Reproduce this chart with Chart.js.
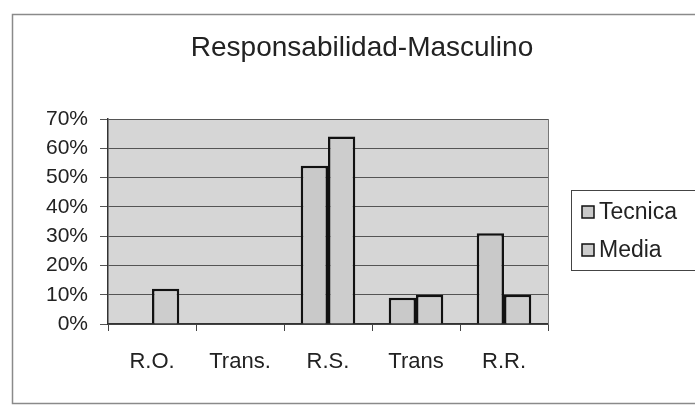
<!DOCTYPE html>
<html>
<head>
<meta charset="utf-8">
<script src="https://cdn.jsdelivr.net/npm/chart.js@4.4.0/dist/chart.umd.min.js"></script>
<style>
  html, body { margin: 0; padding: 0; background: #ffffff; }
  #wrap { width: 695px; height: 410px; position: relative; }
</style>
</head>
<body>
<div id="wrap"><canvas id="c" width="695" height="410"></canvas></div>
<script>
const chartTitle = "Responsabilidad-Masculino";
const categories = ["R.O.", "Trans.", "R.S.", "Trans", "R.R."];
const tecnica = [0, 0, 54, 9, 31];
const media = [12, 0, 64, 10, 10];
const seriesNames = ["Tecnica", "Media"];
const yTicks = [0, 10, 20, 30, 40, 50, 60, 70];

const FONT = "'Liberation Sans', Arial, sans-serif";

const decor = {
  id: 'decor',
  beforeDraw(chart) {
    const ctx = chart.ctx;
    const a = chart.chartArea;
    ctx.save();
    ctx.strokeStyle = '#8a8a8a';
    ctx.lineWidth = 1.5;
    ctx.strokeRect(12.5, 14.5, 700, 389);
    ctx.fillStyle = '#d6d6d6';
    ctx.fillRect(a.left, a.top, a.right - a.left, a.bottom - a.top);
    ctx.restore();
  },
  afterDraw(chart) {
    const ctx = chart.ctx;
    const a = chart.chartArea;
    ctx.save();
    ctx.strokeStyle = '#777';
    ctx.lineWidth = 1;
    ctx.beginPath();
    ctx.moveTo(a.right + 0.5, a.top);
    ctx.lineTo(a.right + 0.5, a.bottom);
    ctx.stroke();
    ctx.fillStyle = '#222';
    ctx.font = '28px ' + FONT;
    ctx.textAlign = 'center';
    ctx.textBaseline = 'middle';
    ctx.fillText(chartTitle, 362, 48);
    ctx.strokeStyle = '#444';
    ctx.lineWidth = 1;
    ctx.strokeRect(571.5, 190.5, 140, 80);
    const ys = [212, 250];
    ctx.font = '23px ' + FONT;
    ctx.textAlign = 'left';
    chart.data.datasets.forEach((d, i) => {
      ctx.fillStyle = d.backgroundColor;
      ctx.fillRect(582, ys[i] - 6, 12, 12);
      ctx.strokeStyle = '#111';
      ctx.lineWidth = 1.5;
      ctx.strokeRect(582, ys[i] - 6, 12, 12);
      ctx.fillStyle = '#222';
      ctx.fillText(d.label, 599, ys[i] + 1);
    });
    ctx.restore();
  }
};

new Chart(document.getElementById('c'), {
  type: 'bar',
  data: {
    labels: categories,
    datasets: [
      { label: seriesNames[0], data: tecnica, backgroundColor: '#c9c9c9', borderColor: '#111', borderWidth: 2.5,
        categoryPercentage: 0.62, barPercentage: 1.0 },
      { label: seriesNames[1], data: media, backgroundColor: '#cdcdcd', borderColor: '#111', borderWidth: 2.5,
        categoryPercentage: 0.62, barPercentage: 1.0 }
    ]
  },
  options: {
    responsive: false,
    animation: false,
    layout: { padding: { left: 0, right: 147, top: 119, bottom: 0 } },
    plugins: { legend: { display: false }, title: { display: false }, tooltip: { enabled: false } },
    scales: {
      x: {
        grid: { display: true, drawOnChartArea: false, drawTicks: true, tickLength: 7, offset: true, color: '#444' },
        border: { display: true, color: '#333', width: 1.5 },
        ticks: { color: '#222', font: { family: FONT, size: 22 }, padding: 18, maxRotation: 0 },
        afterFit(s) { s.height = 86; }
      },
      y: {
        min: 0, max: 70,
        afterBuildTicks(s) { s.ticks = yTicks.map(v => ({ value: v })); },
        grid: { color: '#555', lineWidth: 1, drawTicks: true, tickLength: 8 },
        border: { display: true, color: '#333', width: 1.5 },
        ticks: { color: '#222', font: { family: FONT, size: 21 }, padding: 12,
                 callback: v => v + '%' },
        afterFit(s) { s.width = 108; }
      }
    }
  },
  plugins: [decor]
});
</script>
</body>
</html>
